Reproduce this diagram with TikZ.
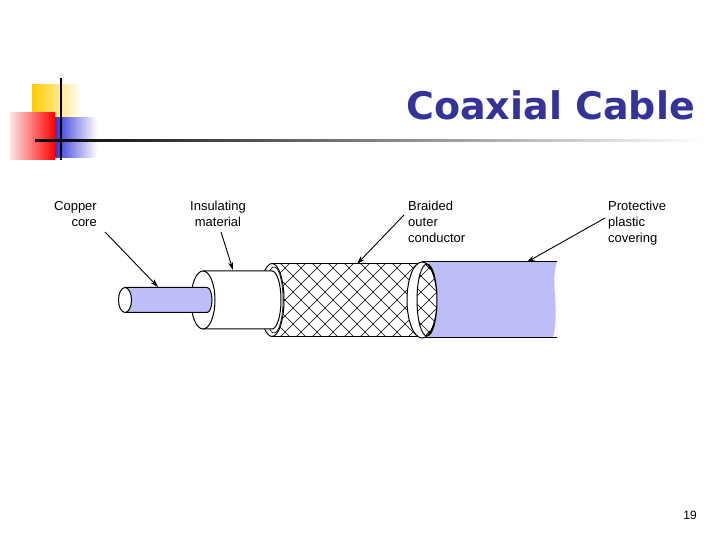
\documentclass[tikz,border=0pt]{standalone}
\usepackage{fontspec}
\setmainfont{Liberation Sans}
\newfontfamily\titlefont{DejaVu Sans}
\usetikzlibrary{arrows.meta}
\definecolor{lav}{RGB}{189,189,247}
\definecolor{navy}{RGB}{51,51,153}
\definecolor{gold}{RGB}{255,204,0}
\tikzset{lbl/.style={font=\fontsize{13}{16}\selectfont,inner sep=0pt},
 arr/.style={-{Stealth[length=8pt,width=5pt]},line width=0.9pt},
 edge/.style={line width=1pt}}
\begin{document}
\begin{tikzpicture}[x=1pt,y=1pt]
\useasboundingbox[fill=white] (0,0) rectangle (720,540);
% decoration
\shade[left color=gold,right color=white] (32,405) rectangle (82,455);
\shade[left color=blue!80!black,right color=white] (44,382) rectangle (97,422);
\shade[left color=red!10,right color=red] (10,380) rectangle (55,427);
\draw[line width=1.5pt] (61,380) -- (61,462);
\shade[left color=black,right color=white] (35,398.5) rectangle (705,400.5);
\node[anchor=base east,text=navy,inner sep=0pt] (title) at (695,420) {\titlefont\bfseries\fontsize{38}{40}\selectfont Coaxial Cable};
\node[anchor=base east,inner sep=0pt,font=\fontsize{12}{14}\selectfont] (pg) at (697,20) {19};
% jacket
\fill[lav] (422,278) -- (557,278) .. controls (550,260) and (560,230) .. (553,202) -- (422,202) -- cycle;
\draw[edge] (422,278) -- (557,278) (422,202) -- (557,202);
% braid
\begin{scope}
\path[clip] (272,276.5) -- (426,276.5) arc[start angle=90,end angle=-90,x radius=10,y radius=36.5] -- (272,203.5) -- cycle;
\fill[white] (260,190) rectangle (440,290);
\foreach \i in {-120,-104,...,200}{
 \draw[line width=0.5pt] (272+\i,203) -- (272+\i+74,277);
 \draw[line width=0.5pt] (272+\i,277) -- (272+\i+74,203);
}
\end{scope}
\draw[edge] (272,276.5) -- (424,276.5) (424,203.5) -- (272,203.5);
% jacket face ring
\draw[edge,fill=white,even odd rule] (422,240) ellipse[x radius=15,y radius=38] (427,240) ellipse[x radius=10,y radius=36];
\draw[edge,fill=white] (272,240) ellipse[x radius=12,y radius=36.5];
\draw[line width=0.6pt] (274,240) ellipse[x radius=9,y radius=33];
% insulator
\draw[edge,fill=white] (203,269) -- (272,269) arc[start angle=90,end angle=-90,x radius=9,y radius=29] -- (203,211);
\draw[edge,fill=white] (203,240) ellipse[x radius=12,y radius=29];
% core
\draw[edge,fill=lav] (125,252.5) -- (207,252.5) arc[start angle=90,end angle=-90,x radius=5,y radius=12.5] -- (125,227.5);
\draw[edge,fill=white] (125,240) ellipse[x radius=6.5,y radius=12.5];
\coordinate (c1) at (158,253);
\coordinate (c2) at (233,270);
\coordinate (c3) at (357,276);
\coordinate (c4) at (527,278);
% labels
\node[lbl,align=right,anchor=north east] (l1) at (97,339) {Copper\\core};
\node[lbl,align=center,anchor=north] (l2) at (218,339) {Insulating\\material};
\node[lbl,align=left,anchor=north west] (l3) at (408,339) {Braided\\outer\\conductor};
\node[lbl,align=left,anchor=north west] (l4) at (608,339) {Protective\\plastic\\covering};
\draw[arr] (105,308) -- (c1);
\draw[arr] (221,308) -- (c2);
\draw[arr] (404,325) -- (c3);
\draw[arr] (605,322) -- (c4);
\end{tikzpicture}
\end{document}
